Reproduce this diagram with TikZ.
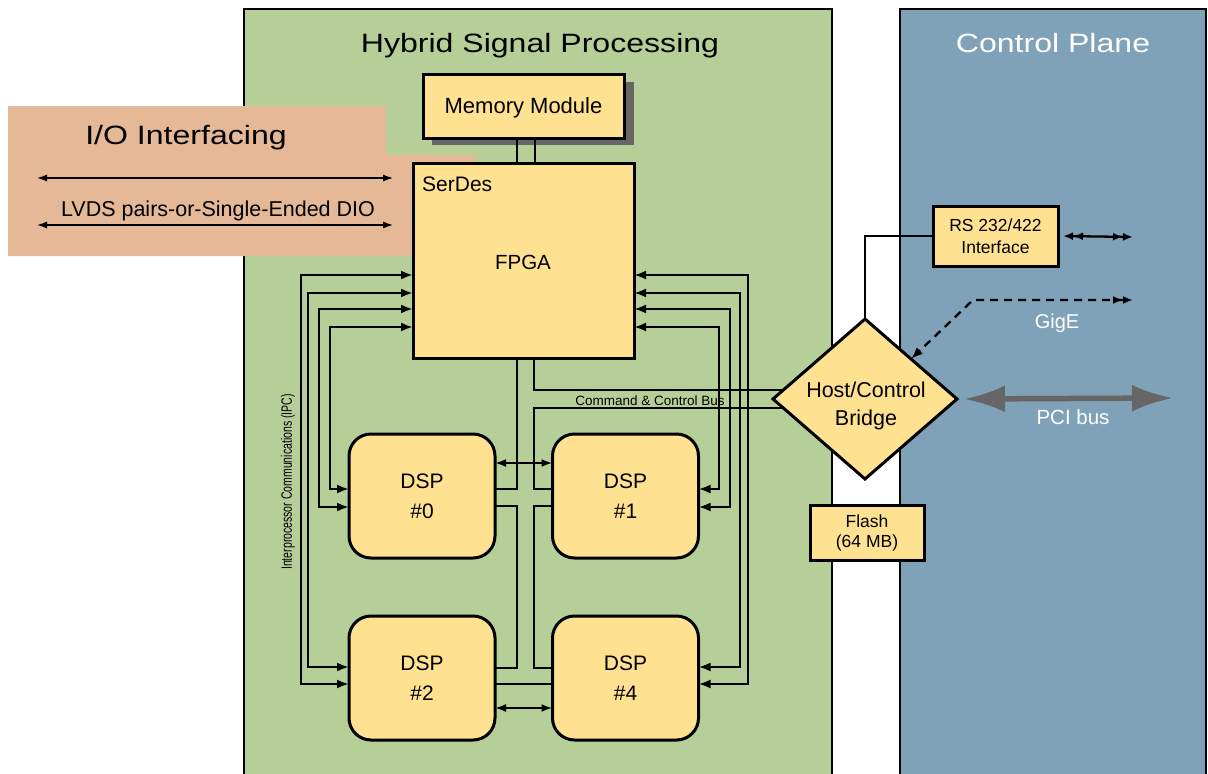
\documentclass[tikz,border=0pt]{standalone}
\usepackage{fontspec}
\setmainfont{Liberation Sans}
\newfontfamily\titlefont[FakeStretch=1.21]{Liberation Sans}
\usetikzlibrary{arrows.meta,shapes.geometric}
\definecolor{panelgreen}{HTML}{B6CF99}
\definecolor{panelblue}{HTML}{7FA2B8}
\definecolor{iosalmon}{HTML}{E5B997}
\definecolor{boxyellow}{HTML}{FFE192}
\definecolor{shadowgray}{HTML}{666666}
\begin{document}
\begin{tikzpicture}[x=1pt,y=-1pt,
  panel/.style={draw=black,line width=2.8pt},
  box/.style={draw=black,line width=3pt,fill=boxyellow,inner sep=0pt,outer sep=0pt,align=center},
  dspbox/.style={box,rounded corners=22pt,minimum width=146pt,minimum height=124pt,font=\fontsize{21}{30}\selectfont},
  wire/.style={line width=2.8pt},
  ipc/.style={wire,{Latex[length=12pt,width=9pt]}-{Latex[length=12pt,width=9pt]}},
  twoway/.style={wire,{Latex[length=11pt,width=8pt]}-{Latex[length=11pt,width=8pt]}},
  iowire/.style={line width=2.2pt,{Latex[length=11pt,width=7pt]}-{Latex[length=11pt,width=7pt]}},
  titletext/.style={font=\titlefont\fontsize{26.5}{30}\selectfont,anchor=base,inner sep=0pt},
  whitetext/.style={text=white,anchor=base,inner sep=0pt}
]
\useasboundingbox (0,0) rectangle (1208,774);
\clip (0,0) rectangle (1208,774);

% panels
\path[panel,fill=panelgreen] (244,9) rectangle (832,790);
\path[panel,fill=panelblue] (900,9) rectangle (1206,790);
\fill[iosalmon] (8,106) -- (386,106) -- (386,155) -- (475,155) -- (475,256) -- (8,256) -- cycle;

\node[titletext] (hsptitle) at (540,52) {Hybrid Signal Processing};
\node[titletext,text=white] (cptitle) at (1053,52) {Control Plane};
\node[titletext] (iotitle) at (186,144) {I/O Interfacing};

% I/O arrows
\coordinate (ioL1) at (36,178);
\coordinate (ioR1) at (394,178);
\coordinate (ioL2) at (36,225);
\coordinate (ioR2) at (394,225);
\draw[iowire] (ioL1) -- (ioR1);
\draw[iowire] (ioL2) -- (ioR2);
\node[anchor=base,inner sep=0pt,font=\fontsize{21.5}{25}\selectfont] (lvds) at (218,216) {LVDS pairs-or-Single-Ended DIO};

% memory module with shadow
\fill[shadowgray] (432,82) rectangle (634,145);
\node[box,minimum width=201pt,minimum height=64pt,font=\fontsize{22}{26}\selectfont,text depth=0pt] (mem) at (523.5,106) {Memory Module};

% FPGA
\node[box,minimum width=221pt,minimum height=195pt] (fpga) at (523.5,260.5) {};
\node[anchor=west,inner sep=0pt,font=\fontsize{21}{25}\selectfont] (serdes) at (422,184) {SerDes};
\node[inner sep=0pt,font=\fontsize{20.5}{25}\selectfont] (fpgatxt) at (523,262) {FPGA};

\draw[wire] (mem.south -| 517,0) -- (fpga.north -| 517,0);
\draw[wire] (mem.south -| 535,0) -- (fpga.north -| 535,0);

% DSPs
\node[dspbox] (dsp0) at (422,496) {DSP\\\#0};
\node[dspbox] (dsp1) at (625.5,496) {DSP\\\#1};
\node[dspbox] (dsp2) at (422,678) {DSP\\\#2};
\node[dspbox] (dsp4) at (625.5,678) {DSP\\\#4};

% bridge
\node[draw=black,line width=3pt,fill=boxyellow,diamond,minimum width=184pt,minimum height=160pt,inner sep=0pt,outer sep=0pt] (bridge) at (865,399) {};
\node[inner sep=0pt,align=center,font=\fontsize{21.5}{28}\selectfont] (bridgetxt) at (866,406) {Host/Control\\Bridge};

% RS and flash
\node[box,minimum width=125pt,minimum height=60pt,font=\fontsize{17.5}{22}\selectfont] (rs) at (995.5,236) {RS 232/422\\Interface};
\node[box,minimum width=114pt,minimum height=55pt,font=\fontsize{17.5}{20}\selectfont] (flash) at (867,532.5) {Flash\\(64 MB)};

% channel / command bus
\draw[wire] (fpga.south -| 517,0) |- (dsp0.east |- 0,489);
\draw[wire] (fpga.south -| 534,0) |- ([shift={(10.4,-9)}]bridge.west);
\draw[wire] ([shift={(10.4,9)}]bridge.west) -| (534,489) -- (dsp1.west |- 0,489);
\draw[wire] (dsp0.east |- 0,506) -| (517,668) -- (dsp2.east |- 0,668);
\draw[wire] (dsp1.west |- 0,506) -| (534,668) -- (dsp4.west |- 0,668);
\draw[wire] (dsp2.east |- 0,684) -- (dsp4.west |- 0,684);
\node[anchor=base,inner sep=0pt,font=\fontsize{13.5}{15}\selectfont] (cmdbus) at (650,405) {Command \& Control Bus};

\draw[twoway] (dsp0.east |- 0,463) -- (dsp1.west |- 0,463);
\draw[twoway] (dsp2.east |- 0,708) -- (dsp4.west |- 0,708);

% IPC left
\draw[ipc] (dsp2.west |- 0,684) -| (301,275) -- (fpga.west |- 0,275);
\draw[ipc] (dsp2.west |- 0,667) -| (308,293) -- (fpga.west |- 0,293);
\draw[ipc] (dsp0.west |- 0,507) -| (319,309) -- (fpga.west |- 0,309);
\draw[ipc] (dsp0.west |- 0,489) -| (330,327) -- (fpga.west |- 0,327);
% IPC right
\draw[ipc] (dsp4.east |- 0,684) -| (748,275) -- (fpga.east |- 0,275);
\draw[ipc] (dsp4.east |- 0,667) -| (740,293) -- (fpga.east |- 0,293);
\draw[ipc] (dsp1.east |- 0,507) -| (730,309) -- (fpga.east |- 0,309);
\draw[ipc] (dsp1.east |- 0,489) -| (719,327) -- (fpga.east |- 0,327);

\node[rotate=90,inner sep=0pt,font=\fontsize{15}{17}\selectfont] (ipclabel) at (288,482) {\scalebox{0.7}[1]{Interprocessor Communications (IPC)}};

% control plane links
\draw[line width=2.3pt] (bridge.north) |- (rs.west);
\coordinate (rsR) at (1133,237);
\draw[line width=2.3pt,{Latex[length=10pt,width=8pt] Latex[length=10pt,width=8pt]}-{Latex[length=10pt,width=8pt] Latex[length=10pt,width=8pt]}] ([xshift=5pt]rs.east) -- (rsR);
\coordinate (gigR) at (1133,300);
\coordinate (gigK) at (973,300);
\draw[line width=2.3pt,dash pattern=on 8pt off 6pt,{Latex[length=10pt,width=8pt] Latex[length=10pt,width=8pt]}-{Latex[length=12pt,width=9pt]}] (gigR) -- (gigK) -- (bridge.north east);
\node[whitetext,font=\fontsize{20}{24}\selectfont] (gige) at (1057,328) {GigE};

\coordinate (pciR) at (1173,398);
\draw[draw=shadowgray,line width=5.5pt,{Latex[length=41pt,width=27pt]}-{Latex[length=41pt,width=27pt]}] ([xshift=7pt]bridge.east) -- (pciR);
\node[whitetext,font=\fontsize{20.5}{24}\selectfont] (pci) at (1073,424) {PCI bus};
\end{tikzpicture}
\end{document}
